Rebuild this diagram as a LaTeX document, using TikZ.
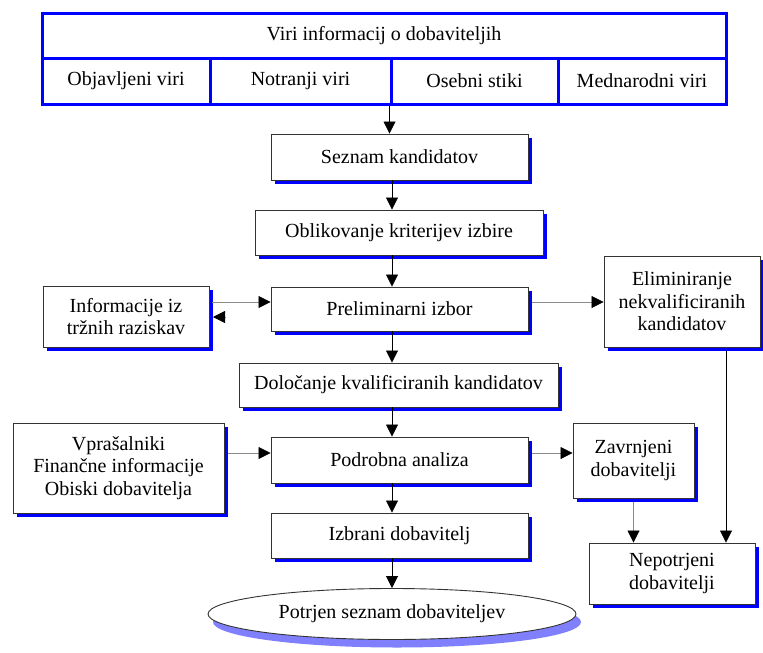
\documentclass[tikz,border=0pt]{standalone}
\usepackage{fontspec}
\setmainfont{Liberation Serif}
\usetikzlibrary{arrows.meta,shadows,shapes.geometric}
\begin{document}
\begin{tikzpicture}[x=1pt,y=-1pt,
  every node/.style={font=\fontsize{20}{22.5}\selectfont, align=center, inner sep=0pt},
  cell/.style={draw=blue, line width=3pt, rectangle, minimum height=46pt},
  box/.style={draw=black!80, line width=0.9pt, fill=white, rectangle,
    drop shadow={shadow xshift=4pt, shadow yshift=-4pt, fill=blue, opacity=1}},
  oval/.style={draw=black!80, line width=0.9pt, fill=white, ellipse,
    drop shadow={shadow xshift=5pt, shadow yshift=-8pt, fill=blue!50, opacity=1}},
  arr/.style={-{Triangle[length=12pt,width=12pt,color=black]}, line width=0.8pt, draw=black},
  garr/.style={-{Triangle[length=12pt,width=12pt,color=black]}, line width=0.8pt, draw=black!45},
]
\useasboundingbox (0,0) rectangle (763,653);

% sources table
\node[cell, minimum width=684pt, minimum height=45pt] (viri) at (384,35.5) {Viri informacij o dobaviteljih};
\node[cell, minimum width=168pt] (objav) at (126,81) {Objavljeni viri};
\node[cell, minimum width=181pt] (notr) at (300.5,81) {Notranji viri};
\node[cell, minimum width=167pt] (oseb) at (474.5,81) {Osebni stiki};
\node[cell, minimum width=168pt] (medn) at (642,81) {Mednarodni viri};

% main column
\coordinate (axis) at (392,0);
\node[box, minimum width=257pt, minimum height=46pt] (seznam) at (399.5,157) {Seznam kandidatov};
\node[box, minimum width=288pt, minimum height=45pt] (oblik) at (399,232.5) {Oblikovanje kriterijev izbire};
\node[box, minimum width=257pt, minimum height=44pt] (prelim) at (399.5,309) {Preliminarni izbor};
\node[box, minimum width=319pt, minimum height=44pt] (dolo) at (398.5,385) {Določanje kvalificiranih kandidatov};
\node[box, minimum width=257pt, minimum height=46pt] (podr) at (399.5,460) {Podrobna analiza};
\node[box, minimum width=257pt, minimum height=45pt] (izbr) at (399.5,535.5) {Izbrani dobavitelj};
\node[oval, minimum width=368pt, minimum height=51pt] (potr) at (392,614) {Potrjen seznam dobaviteljev};

% side boxes
\node[box, minimum width=166pt, minimum height=61pt] (info) at (126,316.5) {Informacije iz\\tržnih raziskav};
\node[box, minimum width=156pt, minimum height=91pt] (elim) at (682,301.5) {Eliminiranje\\nekvalificiranih\\kandidatov};
\node[box, minimum width=211pt, minimum height=90pt] (vpras) at (118.5,468) {Vprašalniki\\Finančne informacije\\Obiski dobavitelja};
\node[box, minimum width=121pt, minimum height=75pt] (zavr) at (633.5,460.5) {Zavrnjeni\\dobavitelji};
\node[box, minimum width=166pt, minimum height=61pt] (nepo) at (672,573.5) {Nepotrjeni\\dobavitelji};

% vertical flow
\draw[arr] (oseb.south west) -- (oseb.south west |- seznam.north);
\draw[arr] (seznam.south -| axis) -- (oblik.north -| axis);
\draw[arr] (oblik.south -| axis) -- (prelim.north -| axis);
\draw[arr] (prelim.south -| axis) -- (dolo.north -| axis);
\draw[arr] (dolo.south -| axis) -- (podr.north -| axis);
\draw[arr] (podr.south -| axis) -- (izbr.north -| axis);
\draw[arr] (izbr.south -| axis) -- (potr.north -| axis);

% side connections
\coordinate (lvlA) at (0,302);
\coordinate (lvlB) at (0,453);
\coordinate (infoBack) at (225,317);
\coordinate (infoEdge) at (213,317);
\coordinate (elimDrop) at (726,0);
\draw[garr] ([xshift=3pt]info.east |- lvlA) -- (prelim.west |- lvlA);
\draw[garr] (infoBack) -- (infoEdge);
\draw[garr] ([xshift=4pt]prelim.east |- lvlA) -- (elim.west |- lvlA);
\draw[garr] ([xshift=4pt]vpras.east |- lvlB) -- (podr.west |- lvlB);
\draw[garr] ([xshift=4pt]podr.east |- lvlB) -- (zavr.west |- lvlB);
\draw[garr] ([yshift=-4pt]zavr.south) -- (zavr.south |- nepo.north);
\draw[arr] ([yshift=-4pt]elim.south -| elimDrop) -- (nepo.north -| elimDrop);
\end{tikzpicture}
\end{document}
